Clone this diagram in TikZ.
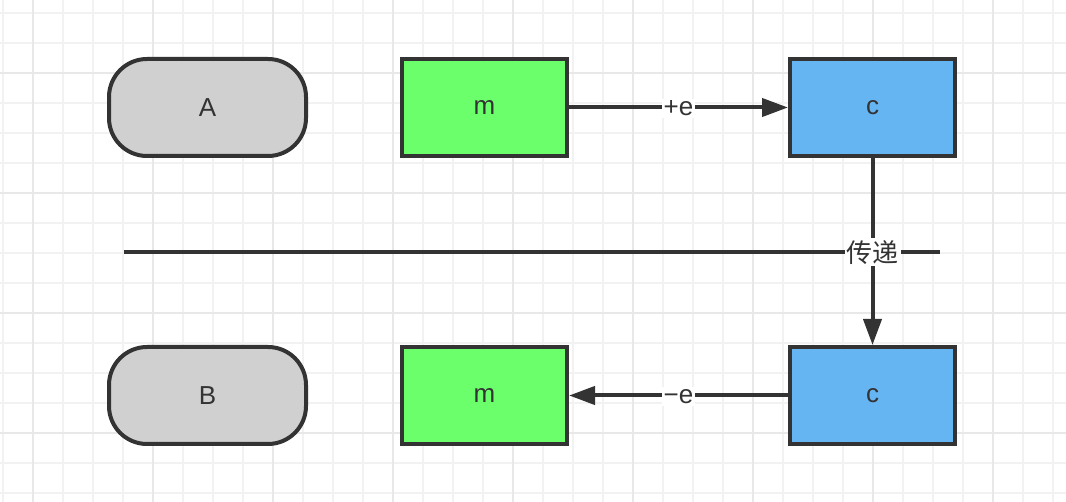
\documentclass[tikz,border=0pt]{standalone}
\usepackage{fontspec}
\setmainfont{Liberation Sans}
\newfontfamily\cjkfont{Noto Sans CJK SC}
\usetikzlibrary{arrows.meta}
\definecolor{inkgray}{HTML}{333333}
\definecolor{gridminor}{HTML}{F2F2F2}
\definecolor{gridmajor}{HTML}{E8E8E8}
\definecolor{actorfill}{HTML}{D0D0D0}
\definecolor{msggreen}{HTML}{6CFF6C}
\definecolor{keyblue}{HTML}{66B5F3}
\tikzset{
  % parties A / B
  actor/.style={rectangle, draw=inkgray, fill=actorfill, rounded corners=38pt,
                line width=4pt, minimum width=197pt, minimum height=97pt,
                text=inkgray},
  % boxes -- usage: \node[box=msggreen] ...
  box/.style={rectangle, draw=inkgray, fill=#1, line width=4pt,
              minimum width=165pt, minimum height=97pt, text=inkgray},
  flow/.style={-{Triangle[length=26pt,width=18pt]}, draw=inkgray, line width=4pt},
  tag/.style={fill=white, text=inkgray, inner sep=2pt, yshift=-1pt},
}

\begin{document}
\begin{tikzpicture}[x=1pt, y=-1pt, font=\fontsize{26}{31}\selectfont]
\useasboundingbox (0,0) rectangle (1066,502);

% ── Grid ─────────────────────────────────────────────────────────────────────
\foreach \gx in {3,33,...,1053} \draw[gridminor, line width=1.5pt] (\gx,0) -- (\gx,502);
\foreach \gy in {13,43,...,493}  \draw[gridminor, line width=1.5pt] (0,\gy) -- (1066,\gy);
\foreach \gx in {33,153,...,993} \draw[gridmajor, line width=2pt] (\gx,0) -- (\gx,502);
\foreach \gy in {73,193,313,433} \draw[gridmajor, line width=2pt] (0,\gy) -- (1066,\gy);

% ── Row 1 ────────────────────────────────────────────────────────────────────
\node[actor]        (pa)   at (207.5, 107.5) {A};
\node[box=msggreen] (ma)   at (484.5, 107.5) {m};
\node[box=keyblue]  (ca)   at (872.5, 107.5) {c};

% ── Row 2 ────────────────────────────────────────────────────────────────────
\node[actor]        (pb)   at (207.5, 395.5) {B};
\node[box=msggreen] (mb)   at (484.5, 395.5) {m};
\node[box=keyblue]  (cb)   at (872.5, 395.5) {c};

% ── Divider ──────────────────────────────────────────────────────────────────
\coordinate (divl) at (124, 252);
\coordinate (divr) at (940, 252);
\draw[inkgray, line width=4pt] (divl) -- (divr);

% ── Arrows ───────────────────────────────────────────────────────────────────
\draw[flow] (ma) -- node[tag]{+e} (ca);
\draw[flow] (ca) -- node[tag]{\cjkfont 传递} (cb);
\draw[flow] (cb) -- node[tag]{\textminus e} (mb);

\end{tikzpicture}
\end{document}
